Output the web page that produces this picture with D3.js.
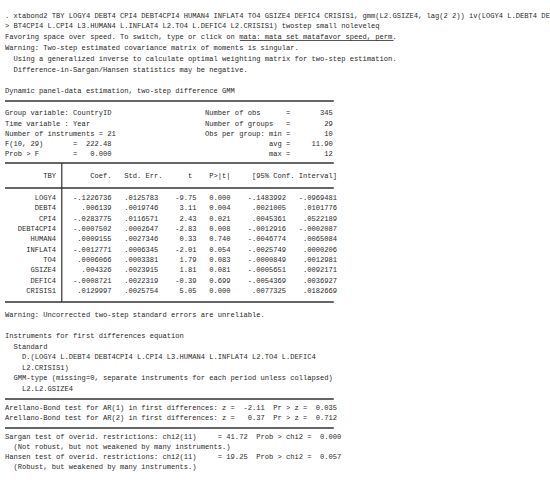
<!DOCTYPE html>
<html>
<head>
<meta charset="utf-8">
<script src="https://cdn.jsdelivr.net/npm/d3@7"></script>
<style>
  body { margin: 0; background: #fff; }
  text { font-family: "Liberation Mono", monospace; font-size: 7.1px; fill: #2a2a2a; white-space: pre; }
</style>
</head>
<body>
<svg id="vis" width="550" height="488"></svg>
<script>
const varNames = ["LOGY4", "DEBT4", "CPI4", "DEBT4CPI4", "HUMAN4", "INFLAT4", "TO4", "GSIZE4", "DEFIC4", "CRISIS1"];
const coef = ["-.1226736", ".006139", "-.0283775", "-.0007502", ".0009155", "-.0012771", ".0006066", ".004326", "-.0008721", ".0129997"];
const stdErr = [".0125783", ".0019746", ".0116571", ".0002647", ".0027346", ".0006345", ".0003381", ".0023915", ".0022319", ".0025754"];
const tStat = ["-9.75", "3.11", "2.43", "-2.83", "0.33", "-2.01", "1.79", "1.81", "-0.39", "5.05"];
const pVal = ["0.000", "0.004", "0.021", "0.008", "0.740", "0.054", "0.083", "0.081", "0.699", "0.000"];
const ciLo = ["-.1483992", ".0021005", ".0045361", "-.0012916", "-.0046774", "-.0025749", "-.0000849", "-.0005651", "-.0054369", ".0077325"];
const ciHi = ["-.0969481", ".0101776", ".0522189", "-.0002087", ".0065084", ".0000206", ".0012981", ".0092171", ".0036927", ".0182669"];

const x0 = 5, cw = 4.27;
const svg = d3.select("#vis");

const rp = (s, w) => s.padStart(w);
const lp = (s, w) => s.padEnd(w);

// y of each line (center)
const lines = [
  [16, ". xtabond2 TBY LOGY4 DEBT4 CPI4 DEBT4CPI4 HUMAN4 INFLAT4 TO4 GSIZE4 DEFIC4 CRISIS1, gmm(L2.GSIZE4, lag(2 2)) iv(LOGY4 L.DEBT4 DE"],
  [26, "> BT4CPI4 L.CPI4 L3.HUMAN4 L.INFLAT4 L2.TO4 L.DEFIC4 L2.CRISIS1) twostep small noleveleq"],
  [37, "Favoring space over speed. To switch, type or click on mata: mata set matafavor speed, perm."],
  [48, "Warning: Two-step estimated covariance matrix of moments is singular."],
  [59, "  Using a generalized inverse to calculate optimal weighting matrix for two-step estimation."],
  [70, "  Difference-in-Sargan/Hansen statistics may be negative."],
  [91, "Dynamic panel-data estimation, two-step difference GMM"],
  [113, lp("Group variable: CountryID", 47) + "Number of obs      =" + rp("345", 10)],
  [124, lp("Time variable : Year", 47) + "Number of groups   =" + rp("29", 10)],
  [134, lp("Number of instruments = 21", 47) + "Obs per group: min =" + rp("10", 10)],
  [144, lp("F(10, 29)       =" + rp("222.48", 8), 47) + "               avg =" + rp("11.90", 10)],
  [154, lp("Prob > F        =" + rp("0.000", 8), 47) + "               max =" + rp("12", 10)],
  [176, "         TBY   " + "     Coef.   Std. Err.      t    P>|t|     [95% Conf. Interval]"],
  [315, "Warning: Uncorrected two-step standard errors are unreliable."],
  [336, "Instruments for first differences equation"],
  [347, "  Standard"],
  [357, "    D.(LOGY4 L.DEBT4 DEBT4CPI4 L.CPI4 L3.HUMAN4 L.INFLAT4 L2.TO4 L.DEFIC4"],
  [368, "    L2.CRISIS1)"],
  [378, "  GMM-type (missing=0, separate instruments for each period unless collapsed)"],
  [389, "    L2.L2.GSIZE4"],
  [408, "Arellano-Bond test for AR(1) in first differences: z =  -2.11  Pr > z =  0.035"],
  [418, "Arellano-Bond test for AR(2) in first differences: z =   0.37  Pr > z =  0.712"],
  [437, "Sargan test of overid. restrictions: chi2(11)     = 41.72  Prob > chi2 =  0.000"],
  [447, "  (Not robust, but not weakened by many instruments.)"],
  [457, "Hansen test of overid. restrictions: chi2(11)     = 19.25  Prob > chi2 =  0.057"],
  [467, "  (Robust, but weakened by many instruments.)"]
];

const rowY = d3.scaleLinear().domain([0, varNames.length - 1]).range([198, 291]);
varNames.forEach((v, i) => {
  lines.push([rowY(i), rp(v, 12) + "  " + rp(coef[i], 11) + rp(stdErr[i], 11) + rp(tStat[i], 9) + rp(pVal[i], 8) + rp(ciLo[i], 13) + rp(ciHi[i], 12)]);
});

svg.selectAll("text.l").data(lines).join("text")
  .attr("class", "l")
  .attr("x", x0)
  .attr("y", d => d[0])
  .attr("dominant-baseline", "middle")
  .text(d => d[1]);

// underline for mata link
const pre = "Favoring space over speed. To switch, type or click on ".length;
const linkLen = "mata: mata set matafavor speed, perm".length;
svg.append("line").attr("x1", x0 + pre * cw).attr("x2", x0 + (pre + linkLen) * cw)
  .attr("y1", 40.5).attr("y2", 40.5).attr("stroke", "#2a2a2a").attr("stroke-width", 0.8);

const tableW = 77 * cw;
const rules = [101, 163, 188, 302, 399, 428];
svg.selectAll("line.r").data(rules).join("line")
  .attr("class", "r")
  .attr("x1", x0).attr("x2", x0 + tableW)
  .attr("y1", d => d).attr("y2", d => d)
  .attr("stroke", "#333").attr("stroke-width", 1.4);

svg.append("line").attr("x1", x0 + 13.3 * cw).attr("x2", x0 + 13.3 * cw)
  .attr("y1", 163).attr("y2", 302).attr("stroke", "#333").attr("stroke-width", 1.2);
</script>
</body>
</html>
